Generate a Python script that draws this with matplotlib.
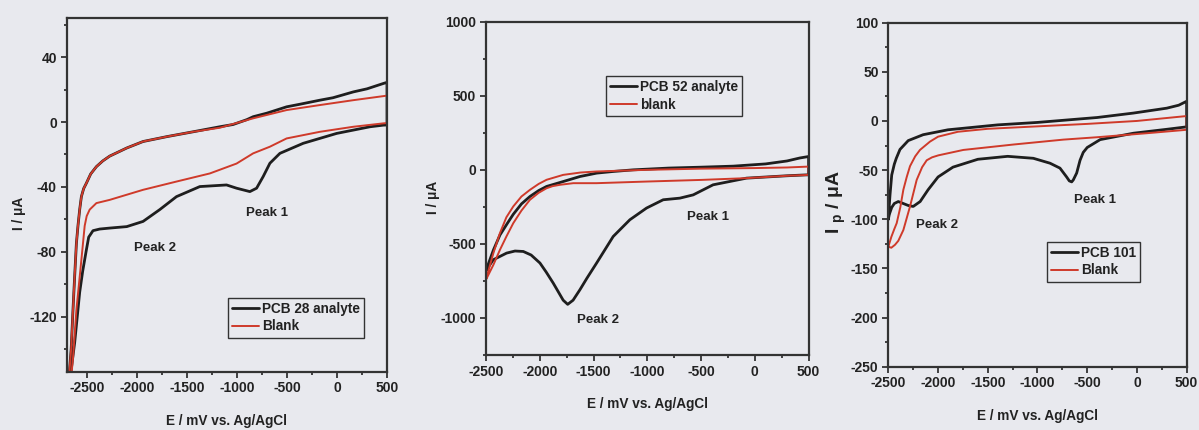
import matplotlib
matplotlib.use("Agg")
import matplotlib.pyplot as plt
from matplotlib.ticker import MultipleLocator

plt.rcParams['font.family'] = ['Liberation Sans', 'DejaVu Sans']
plt.rcParams['font.weight'] = 'bold'
plt.rcParams['axes.unicode_minus'] = False
plt.rcParams['mathtext.fontset'] = 'custom'
plt.rcParams['mathtext.rm'] = 'Liberation Sans:bold'
plt.rcParams['mathtext.bf'] = 'Liberation Sans:bold'
plt.rcParams['mathtext.it'] = 'Liberation Sans:bold'

# ---------------- Panel 1: PCB 28 ----------------
p28_up_E = [-2680, -2655, -2637, -2620, -2603, -2587, -2570, -2553, -2530, -2503, -2460, -2403, -2340,
            -2270, -2100, -1937, -1700, -1437, -1170, -1037, -900, -837, -700, -503, -370, -170, -40,
            163, 300, 463, 500]
p28_up_I = [-160, -140, -116, -95, -75, -64, -54, -46, -41, -37.7, -32, -27.5, -24,
            -21, -16, -12, -9, -6, -2.9, -1.5, 1.5, 3.3, 5.5, 9.4, 11, 13.5, 15,
            18.6, 20.5, 23.8, 24.5]
p28_lo_E = [500, 463, 330, -3, -337, -570, -670, -737, -803, -870, -1003, -1103, -1370, -1603,
            -1770, -1937, -2100, -2270, -2370, -2437, -2480, -2503, -2540, -2570, -2620, -2653, -2670]
p28_lo_I = [-1.8, -1.9, -2.9, -7, -13.1, -19.3, -25.4, -33.6, -40.8, -42.9, -40.8, -38.8, -39.8, -46,
            -54, -61.3, -64.5, -65.4, -66, -67, -71, -78.8, -92, -105, -136, -152, -160]
b28_up_E = [-2680, -2655, -2637, -2620, -2603, -2587, -2570, -2553, -2530, -2503, -2460, -2403, -2340,
            -2270, -2100, -1937, -1700, -1437, -1170, -837, -503, -170, 163, 463, 500]
b28_up_I = [-160, -140, -116, -95, -75, -64, -54, -46, -41, -37.7, -32, -27.5, -24,
            -21, -16, -12, -9, -6, -3.5, 2.3, 7.4, 10.5, 13.5, 16, 16.3]
b28_lo_E = [500, 463, 163, -170, -503, -670, -837, -1003, -1270, -1603, -1937, -2270, -2403, -2470,
            -2500, -2520, -2553, -2603, -2637, -2660]
b28_lo_I = [-0.6, -0.8, -2.9, -6, -10.1, -15.2, -19.3, -25.6, -31.7, -36.7, -41.8, -48, -50, -54,
            -58, -64, -85, -116, -146, -160]

# ---------------- Panel 2: PCB 52 ----------------
p52_up_E = [-2500, -2430, -2370, -2300, -2246, -2170, -2091, -2010, -1936, -1782, -1626, -1470,
            -1317, -1130, -800, -500, -200, 100, 300, 418, 500]
p52_up_I = [-680, -540, -440, -360, -300, -230, -180, -140, -112, -79, -45, -22,
            -11, 0, 12, 18, 25, 40, 60, 80, 90]
p52_lo_E = [500, 480, 300, -77, -388, -573, -697, -852, -1007, -1162, -1317, -1471, -1560, -1626,
            -1690, -1740, -1782, -1830, -1875, -1940, -1998, -2080, -2153, -2230, -2308, -2432, -2500]
p52_lo_I = [-34, -34, -40, -56, -101, -169, -191, -202, -258, -337, -450, -629, -730, -809,
            -880, -908, -880, -820, -764, -690, -629, -575, -551, -548, -562, -607, -680]
b52_up_E = [-2500, -2430, -2370, -2310, -2246, -2170, -2091, -2010, -1936, -1782, -1620, -1471,
            -1007, -500, 0, 300, 500]
b52_up_I = [-740, -560, -427, -320, -247, -180, -135, -95, -67, -34, -18, -11,
            0, 8, 12, 16, 22]
b52_lo_E = [500, 300, -77, -500, -1007, -1471, -1688, -1812, -1880, -1936, -2010, -2091, -2170,
            -2246, -2310, -2370, -2430, -2500]
b52_lo_I = [-34, -40, -56, -68, -79, -90, -90, -101, -110, -124, -155, -202, -275,
            -360, -450, -540, -640, -742]

# ---------------- Panel 3: PCB 101 ----------------
p101_up_E = [-2500, -2490, -2483, -2466, -2440, -2420, -2383, -2300, -2150, -1900, -1400, -1000,
             -700, -400, -36, 300, 420, 500]
p101_up_I = [-100, -85, -75, -55, -44, -38, -29, -20, -14, -9, -4, -1.5,
             1, 3.5, 8, 13, 16, 20]
p101_lo_E = [500, 300, -36, -370, -500, -540, -572, -606, -640, -656, -680, -707, -774, -874, -1042,
             -1300, -1600, -1850, -2000, -2100, -2180, -2250, -2300, -2350, -2400, -2440, -2466,
             -2490, -2500]
p101_lo_I = [-6, -8.5, -12.5, -19, -27, -32, -40, -53, -60, -62, -61, -57, -48, -43, -38,
             -36, -39, -47, -57, -70, -82, -87, -86, -84, -82, -84, -88, -95, -100]
b101_up_E = [-2500, -2470, -2440, -2416, -2380, -2349, -2315, -2282, -2230, -2182, -2081, -2000,
             -1800, -1500, -1000, -500, 0, 500]
b101_up_I = [-128, -118, -110, -104, -88, -70, -57, -46, -36, -29.5, -21, -16,
             -11, -8, -5.5, -3, 0, 5]
b101_lo_E = [500, 98, -405, -740, -1243, -1746, -1997, -2060, -2114, -2160, -2215, -2282, -2349,
             -2400, -2433, -2470, -2500]
b101_lo_I = [-9, -12.5, -16.6, -19, -24, -29.5, -35, -37, -40, -47, -60, -87, -111,
             -122, -126, -129, -128]

BG = '#e8e9ee'
BLACK = '#1e1e1e'
RED = '#cf3a2a'
TXT = '#222222'

fig = plt.figure(figsize=(11.99, 4.30), dpi=100, facecolor=BG)

def make_axes(rect, xlim, ylim, ymaj, ymin):
    ax = fig.add_axes(rect, facecolor=BG)
    ax.set_xlim(*xlim)
    ax.set_ylim(*ylim)
    ax.xaxis.set_major_locator(MultipleLocator(500))
    ax.xaxis.set_minor_locator(MultipleLocator(250))
    ax.yaxis.set_major_locator(MultipleLocator(ymaj))
    ax.yaxis.set_minor_locator(MultipleLocator(ymin))
    ax.tick_params(which='both', direction='out', colors='#333333', labelsize=10,
                   top=False, right=False, width=1.3, labelcolor=TXT)
    ax.tick_params(which='major', length=4, pad=3)
    ax.tick_params(which='minor', length=2.5)
    for lab in ax.get_xticklabels() + ax.get_yticklabels():
        lab.set_fontweight('bold')
    for s in ax.spines.values():
        s.set_linewidth(1.6)
        s.set_color('#333333')
    return ax

def plot_loop(ax, up_E, up_I, lo_E, lo_I, color, lw, label):
    ax.plot(up_E + lo_E, up_I + lo_I, color=color, lw=lw, label=label,
            solid_joinstyle='round', solid_capstyle='round')

def legend(ax, anchor):
    leg = ax.legend(loc='upper left', bbox_to_anchor=anchor, frameon=True, fancybox=False,
                    edgecolor='#333333', facecolor=BG, framealpha=1, borderaxespad=0,
                    handlelength=2.0, handletextpad=0.2, borderpad=0.3, labelspacing=0.25,
                    prop={'weight': 'bold', 'size': 9.8})
    leg.get_frame().set_linewidth(1.0)
    for t in leg.get_texts():
        t.set_color(TXT)

# Panel 1
ax1 = make_axes([0.0556, 0.1356, 0.2672, 0.8218], (-2700, 500), (-154, 64), 40, 20)
plot_loop(ax1, p28_up_E, p28_up_I, p28_lo_E, p28_lo_I, BLACK, 2.0, 'PCB 28 analyte')
plot_loop(ax1, b28_up_E, b28_up_I, b28_lo_E, b28_lo_I, RED, 1.4, 'Blank')
ax1.text(-700, -56, 'Peak 1', ha='center', va='center', fontsize=9.5, fontweight='bold', color=TXT)
ax1.text(-1820, -77.5, 'Peak 2', ha='center', va='center', fontsize=9.5, fontweight='bold', color=TXT)
ax1.set_ylabel('I / μA', fontsize=9.8, fontweight='bold', color=TXT)
ax1.set_xlabel('E / mV vs. Ag/AgCl', fontsize=9.8, fontweight='bold', color=TXT)
ax1.yaxis.set_label_coords(-0.128, 0.449)
ax1.xaxis.set_label_coords(0.5, -0.121)
legend(ax1, (0.504, 0.2085))

# Panel 2
ax2 = make_axes([0.4053, 0.1744, 0.2691, 0.7751], (-2500, 500), (-1250, 1000), 500, 250)
plot_loop(ax2, p52_up_E, p52_up_I, p52_lo_E, p52_lo_I, BLACK, 2.0, 'PCB 52 analyte')
plot_loop(ax2, b52_up_E, b52_up_I, b52_lo_E, b52_lo_I, RED, 1.4, 'blank')
ax2.text(-437, -317, 'Peak 1', ha='center', va='center', fontsize=9.5, fontweight='bold', color=TXT)
ax2.text(-1459, -1011, 'Peak 2', ha='center', va='center', fontsize=9.5, fontweight='bold', color=TXT)
ax2.set_ylabel('I / μA', fontsize=9.8, fontweight='bold', color=TXT)
ax2.set_xlabel('E / mV vs. Ag/AgCl', fontsize=9.8, fontweight='bold', color=TXT)
ax2.yaxis.set_label_coords(-0.143, 0.474)
ax2.xaxis.set_label_coords(0.502, -0.126)
legend(ax2, (0.372, 0.837))

# Panel 3
ax3 = make_axes([0.7409, 0.1473, 0.2488, 0.8000], (-2500, 500), (-250, 100), 50, 25)
plot_loop(ax3, p101_up_E, p101_up_I, p101_lo_E, p101_lo_I, BLACK, 2.0, 'PCB 101')
plot_loop(ax3, b101_up_E, b101_up_I, b101_lo_E, b101_lo_I, RED, 1.4, 'Blank')
ax3.text(-422, -80, 'Peak 1', ha='center', va='center', fontsize=9.5, fontweight='bold', color=TXT)
ax3.text(-2014, -106, 'Peak 2', ha='center', va='center', fontsize=9.5, fontweight='bold', color=TXT)
ax3.set_ylabel(r'I $_{\mathbf{p}}$ / μA', fontsize=14, fontweight='bold', color=TXT)
ax3.set_xlabel('E / mV vs. Ag/AgCl', fontsize=9.8, fontweight='bold', color=TXT)
ax3.yaxis.set_label_coords(-0.135, 0.479)
ax3.xaxis.set_label_coords(0.5, -0.123)
legend(ax3, (0.532, 0.3625))

fig.savefig('out.png', dpi=100, facecolor=BG)
